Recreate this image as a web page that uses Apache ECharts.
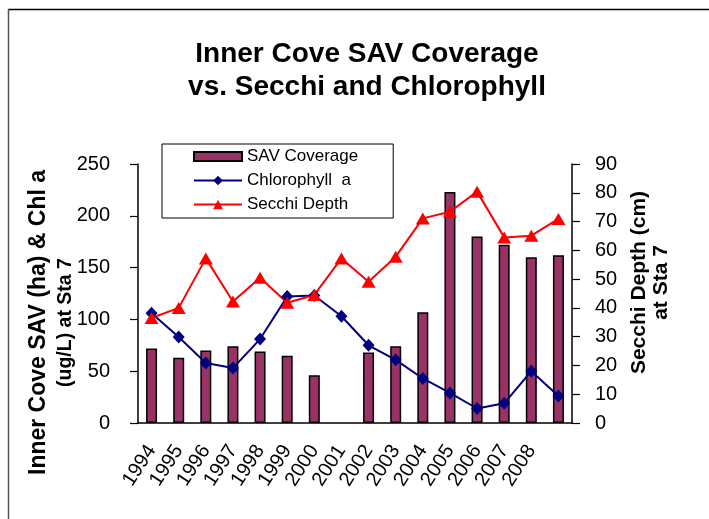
<!DOCTYPE html>
<html>
<head>
<meta charset="utf-8">
<script src="https://cdn.jsdelivr.net/npm/echarts@6/dist/echarts.min.js"></script>
<style>html,body{margin:0;padding:0;background:#fff;}#c{width:709px;height:519px;}</style>
</head>
<body>
<div id="c"></div>
<script>
var categories = ['1994','1995','1996','1997','1998','1999','2000','2001','2002','2003','2004','2005','2006','2007','2008',''];
var savCoverage = [72, 63, 70, 74, 69, 65, 46, null, 68, 74, 107, 223, 180, 172, 160, 162];
var chlorophyll = [106, 83, 58, 53, 81, 122, 123, 103, 75, 61, 43, 29, 14, 19, 50, 26];
var secchiDepth = [36.5, 40, 57.2, 42.2, 50.5, 41.8, 44.5, 57.2, 49.1, 57.8, 71.1, 73.4, 80.4, 64.5, 65.1, 70.9];
var leftTicks = {min: 0, max: 250, interval: 50};
var rightTicks = {min: 0, max: 90, interval: 10};

var FONT = "'Liberation Sans', Arial, sans-serif";
var chart = echarts.init(document.getElementById('c'));
chart.setOption({
  animation: false,
  backgroundColor: '#fff',
  textStyle: {fontFamily: FONT, color: '#000'},
  title: {
    text: 'Inner Cove SAV Coverage\nvs. Secchi and Chlorophyll',
    left: 367, top: 38, textAlign: 'center', padding: 0,
    textStyle: {fontFamily: FONT, fontSize: 28, fontWeight: 'bold', color: '#000', lineHeight: 33, align: 'center'}
  },
  legend: {
    orient: 'vertical', left: 162, top: 144,
    padding: [4, 35, 5, 31], itemWidth: 48, itemHeight: 12, itemGap: 7,
    borderColor: '#000', borderWidth: 1, backgroundColor: '#fff',
    textStyle: {fontFamily: FONT, fontSize: 17, color: '#000'},
    data: [{name: 'SAV Coverage', icon: 'path://M0,0H48V9H0Z'}, 'Chlorophyll  a', 'Secchi Depth']
  },
  grid: {left: 138, right: 137, top: 164, bottom: 96},
  xAxis: {
    type: 'category', data: categories, boundaryGap: true,
    axisLine: {lineStyle: {color: '#000', width: 1.5}},
    axisTick: {length: 7, lineStyle: {color: '#000', width: 1.2}},
    axisLabel: {rotate: 57, interval: 0, fontSize: 20, margin: 24, color: '#000', fontFamily: FONT}
  },
  yAxis: [{
    type: 'value', min: leftTicks.min, max: leftTicks.max, interval: leftTicks.interval,
    name: '{a|Inner Cove SAV (ha) & Chl a}\n{b|(ug/L) at Sta 7}', nameLocation: 'middle', nameGap: 59,
    nameMoveOverlap: false,
    nameTextStyle: {fontFamily: FONT, fontWeight: 'bold', color: '#000', align: 'center', padding: [0, 58, 0, 0],
      rich: {
        a: {fontFamily: FONT, fontSize: 23, fontWeight: 'bold', color: '#000', lineHeight: 28},
        b: {fontFamily: FONT, fontSize: 19.5, fontWeight: 'bold', color: '#000', lineHeight: 26}
      }},
    axisLine: {show: true, lineStyle: {color: '#000', width: 1.5}},
    axisTick: {show: true, length: 8, lineStyle: {color: '#000', width: 1.2}},
    splitLine: {show: false},
    axisLabel: {fontSize: 20, margin: 28, color: '#000', fontFamily: FONT}
  }, {
    type: 'value', position: 'right', min: rightTicks.min, max: rightTicks.max, interval: rightTicks.interval,
    name: 'Secchi Depth (cm)\nat Sta 7', nameLocation: 'middle', nameGap: 56, nameRotate: 90,
    nameMoveOverlap: false,
    nameTextStyle: {fontFamily: FONT, fontSize: 21, fontWeight: 'bold', color: '#000', lineHeight: 22, align: 'center', padding: [0, 0, 0, 22]},
    axisLine: {show: true, lineStyle: {color: '#000', width: 1.5}},
    axisTick: {show: true, length: 8, lineStyle: {color: '#000', width: 1.2}},
    splitLine: {show: false},
    axisLabel: {fontSize: 20, margin: 23, color: '#000', fontFamily: FONT}
  }],
  series: [{
    name: 'SAV Coverage', type: 'bar', yAxisIndex: 0, data: savCoverage, barWidth: 11,
    itemStyle: {color: '#993366', borderColor: '#000', borderWidth: 1.5}
  }, {
    name: 'Chlorophyll  a', type: 'line', yAxisIndex: 0, data: chlorophyll,
    symbol: 'diamond', symbolSize: [12, 13], connectNulls: true,
    lineStyle: {color: '#000080', width: 2}, itemStyle: {color: '#000080'}
  }, {
    name: 'Secchi Depth', type: 'line', yAxisIndex: 1, data: secchiDepth,
    symbol: 'triangle', symbolSize: [14, 12],
    lineStyle: {color: '#ff0000', width: 2}, itemStyle: {color: '#ff0000'}
  }],
  graphic: [
    {type: 'line', shape: {x1: 8, y1: 9.5, x2: 709, y2: 9.5}, style: {stroke: '#000', lineWidth: 1.5}},
    {type: 'line', shape: {x1: 8.5, y1: 9, x2: 8.5, y2: 519}, style: {stroke: '#555', lineWidth: 1.5}}
  ]
});
</script>
</body>
</html>
